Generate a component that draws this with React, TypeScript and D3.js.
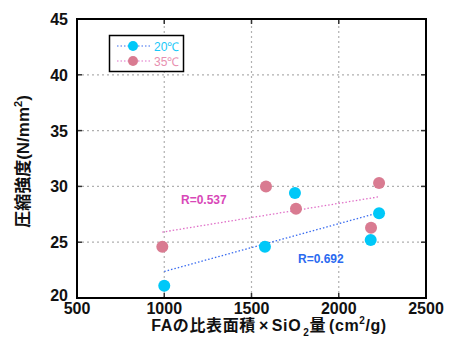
import React, { useEffect, useRef } from 'react'
import * as d3 from 'd3'

// Data
const series20x = [1000, 1577, 1749, 2183, 2231]
const series20y = [21.1, 24.6, 29.4, 25.2, 27.6]
const series35x = [989, 1583, 1755, 2185, 2231]
const series35y = [24.6, 30.0, 28.0, 26.3, 30.3]
const xTicks = [500, 1000, 1500, 2000, 2500]
const yTicks = [20, 25, 30, 35, 40, 45]
const legendLabels = ['20℃', '35℃']
const rLabels = ['R=0.692', 'R=0.537']

const width = 451
const height = 344
const margin = { left: 77, right: 25, top: 19, bottom: 46 }

function fit(xs: number[], ys: number[]) {
    const mx = d3.mean(xs) as number
    const my = d3.mean(ys) as number
    let sxy = 0
    let sxx = 0
    xs.forEach((x, i) => {
        sxy += (x - mx) * (ys[i] - my)
        sxx += (x - mx) * (x - mx)
    })
    const b = sxy / sxx
    return (x: number) => my + b * (x - mx)
}

export default function App() {
    const ref = useRef<SVGSVGElement>(null)

    useEffect(() => {
        const svg = d3.select(ref.current)
        svg.selectAll('*').remove()

        const x0 = margin.left
        const x1 = width - margin.right
        const y0 = height - margin.bottom
        const y1 = margin.top

        const xScale = d3.scaleLinear().domain([500, 2500]).range([x0, x1])
        const yScale = d3.scaleLinear().domain([20, 45]).range([y0, y1])

        const font = "'Liberation Sans', Arial, sans-serif"
        const cjkFont = "'Liberation Sans', 'Noto Sans CJK JP', sans-serif"

        // Grid
        xTicks.slice(1, -1).forEach(t => {
            svg.append('line')
                .attr('x1', xScale(t)).attr('x2', xScale(t))
                .attr('y1', y0).attr('y2', y1)
                .attr('stroke', '#b0b0b0').attr('stroke-width', 1.2)
                .attr('stroke-dasharray', '2,3')
        })
        yTicks.slice(1, -1).forEach(t => {
            svg.append('line')
                .attr('x1', x0).attr('x2', x1)
                .attr('y1', yScale(t)).attr('y2', yScale(t))
                .attr('stroke', '#b0b0b0').attr('stroke-width', 1.2)
                .attr('stroke-dasharray', '2,3')
        })

        // Inner ticks
        xTicks.slice(1, -1).forEach(t => {
            svg.append('line')
                .attr('x1', xScale(t)).attr('x2', xScale(t))
                .attr('y1', y0).attr('y2', y0 - 5)
                .attr('stroke', '#333').attr('stroke-width', 1.5)
            svg.append('line')
                .attr('x1', xScale(t)).attr('x2', xScale(t))
                .attr('y1', y1).attr('y2', y1 + 5)
                .attr('stroke', '#333').attr('stroke-width', 1.5)
        })
        yTicks.slice(1, -1).forEach(t => {
            svg.append('line')
                .attr('x1', x0).attr('x2', x0 + 5)
                .attr('y1', yScale(t)).attr('y2', yScale(t))
                .attr('stroke', '#333').attr('stroke-width', 1.5)
            svg.append('line')
                .attr('x1', x1).attr('x2', x1 - 5)
                .attr('y1', yScale(t)).attr('y2', yScale(t))
                .attr('stroke', '#333').attr('stroke-width', 1.5)
        })

        // Frame
        svg.append('rect')
            .attr('x', x0).attr('y', y1)
            .attr('width', x1 - x0).attr('height', y0 - y1)
            .attr('fill', 'none').attr('stroke', '#000').attr('stroke-width', 2)

        // Tick labels
        xTicks.forEach(t => {
            svg.append('text')
                .text(t)
                .attr('x', xScale(t)).attr('y', y0 + 16)
                .attr('text-anchor', 'middle')
                .attr('font-family', font).attr('font-weight', 'bold')
                .attr('font-size', '16px').attr('fill', '#111')
        })
        yTicks.forEach(t => {
            svg.append('text')
                .text(t)
                .attr('x', x0 - 9).attr('y', yScale(t) + (t === 20 ? 3 : 6))
                .attr('text-anchor', 'end')
                .attr('font-family', font).attr('font-weight', 'bold')
                .attr('font-size', '16px').attr('fill', '#111')
        })

        // Axis titles
        const xt = svg.append('text')
            .attr('x', 269).attr('y', 331)
            .attr('text-anchor', 'middle')
            .attr('font-family', cjkFont).attr('font-weight', 'bold')
            .attr('font-size', '16px').attr('letter-spacing', '0.6px')
            .attr('fill', '#111')
        xt.append('tspan').text('FAの比表面積')
        xt.append('tspan').text('×').attr('dx', 3)
        xt.append('tspan').text('SiO').attr('dx', 3)
        xt.append('tspan').text('2').attr('font-size', '10px').attr('dy', 5).attr('dx', 2)
        xt.append('tspan').text('量').attr('dy', -5)
        xt.append('tspan').text('(cm').attr('dx', 3)
        xt.append('tspan').text('2').attr('font-size', '10px').attr('dy', -7)
        xt.append('tspan').text('/g)').attr('dy', 7)

        const yt = svg.append('text')
            .attr('transform', `translate(29, ${(y0 + y1) / 2 + 3}) rotate(-90)`)
            .attr('text-anchor', 'middle')
            .attr('font-family', cjkFont).attr('font-weight', 'bold')
            .attr('font-size', '17px').attr('fill', '#111')
        yt.append('tspan').text('圧縮強度(N/mm')
        yt.append('tspan').text('2').attr('font-size', '11px').attr('dy', -7)
        yt.append('tspan').text(')').attr('dy', 7)

        // Trend lines
        const groups = [
            { xs: series20x, ys: series20y, point: '#00c8f8', line: '#3a6cf0' },
            { xs: series35x, ys: series35y, point: '#d97b91', line: '#e070c8' },
        ]
        groups.forEach(g => {
            const f = fit(g.xs, g.ys)
            const lo = d3.min(g.xs) as number
            const hi = d3.max(g.xs) as number
            svg.append('line')
                .attr('x1', xScale(lo)).attr('x2', xScale(hi))
                .attr('y1', yScale(f(lo))).attr('y2', yScale(f(hi)))
                .attr('stroke', g.line).attr('stroke-width', 1.3)
                .attr('stroke-dasharray', '1.5,2')
        })

        // Points
        groups.forEach(g => {
            g.xs.forEach((xv, i) => {
                svg.append('circle')
                    .attr('cx', xScale(xv)).attr('cy', yScale(g.ys[i]))
                    .attr('r', 6)
                    .attr('fill', g.point)
            })
        })

        // R labels
        svg.append('text')
            .text(rLabels[0])
            .attr('x', 298).attr('y', 263)
            .attr('font-family', font).attr('font-weight', 'bold')
            .attr('font-size', '12px').attr('fill', '#2a6af0')
        svg.append('text')
            .text(rLabels[1])
            .attr('x', 181).attr('y', 204)
            .attr('font-family', font).attr('font-weight', 'bold')
            .attr('font-size', '12px').attr('fill', '#d848b8')

        // Legend
        svg.append('rect')
            .attr('x', 109.5).attr('y', 35.5)
            .attr('width', 74).attr('height', 36)
            .attr('fill', '#fff').attr('stroke', '#000').attr('stroke-width', 1.5)
        const legendText = ['#18c8f8', '#e890b0']
        groups.forEach((g, i) => {
            const ly = 46 + i * 15
            svg.append('line')
                .attr('x1', 117).attr('x2', 150)
                .attr('y1', ly).attr('y2', ly)
                .attr('stroke', g.line).attr('stroke-width', 1.2)
                .attr('stroke-dasharray', '1.5,2')
            svg.append('circle')
                .attr('cx', 133).attr('cy', ly).attr('r', 5)
                .attr('fill', g.point)
            svg.append('text')
                .text(legendLabels[i])
                .attr('x', 154).attr('y', ly + 4.5)
                .attr('font-family', font)
                .attr('font-size', '12px').attr('fill', legendText[i])
        })
    }, [])

    return (
        <svg ref={ref} width={width} height={height}
            style={{ position: 'absolute', left: 0, top: 0, background: '#fff' }} />
    )
}
